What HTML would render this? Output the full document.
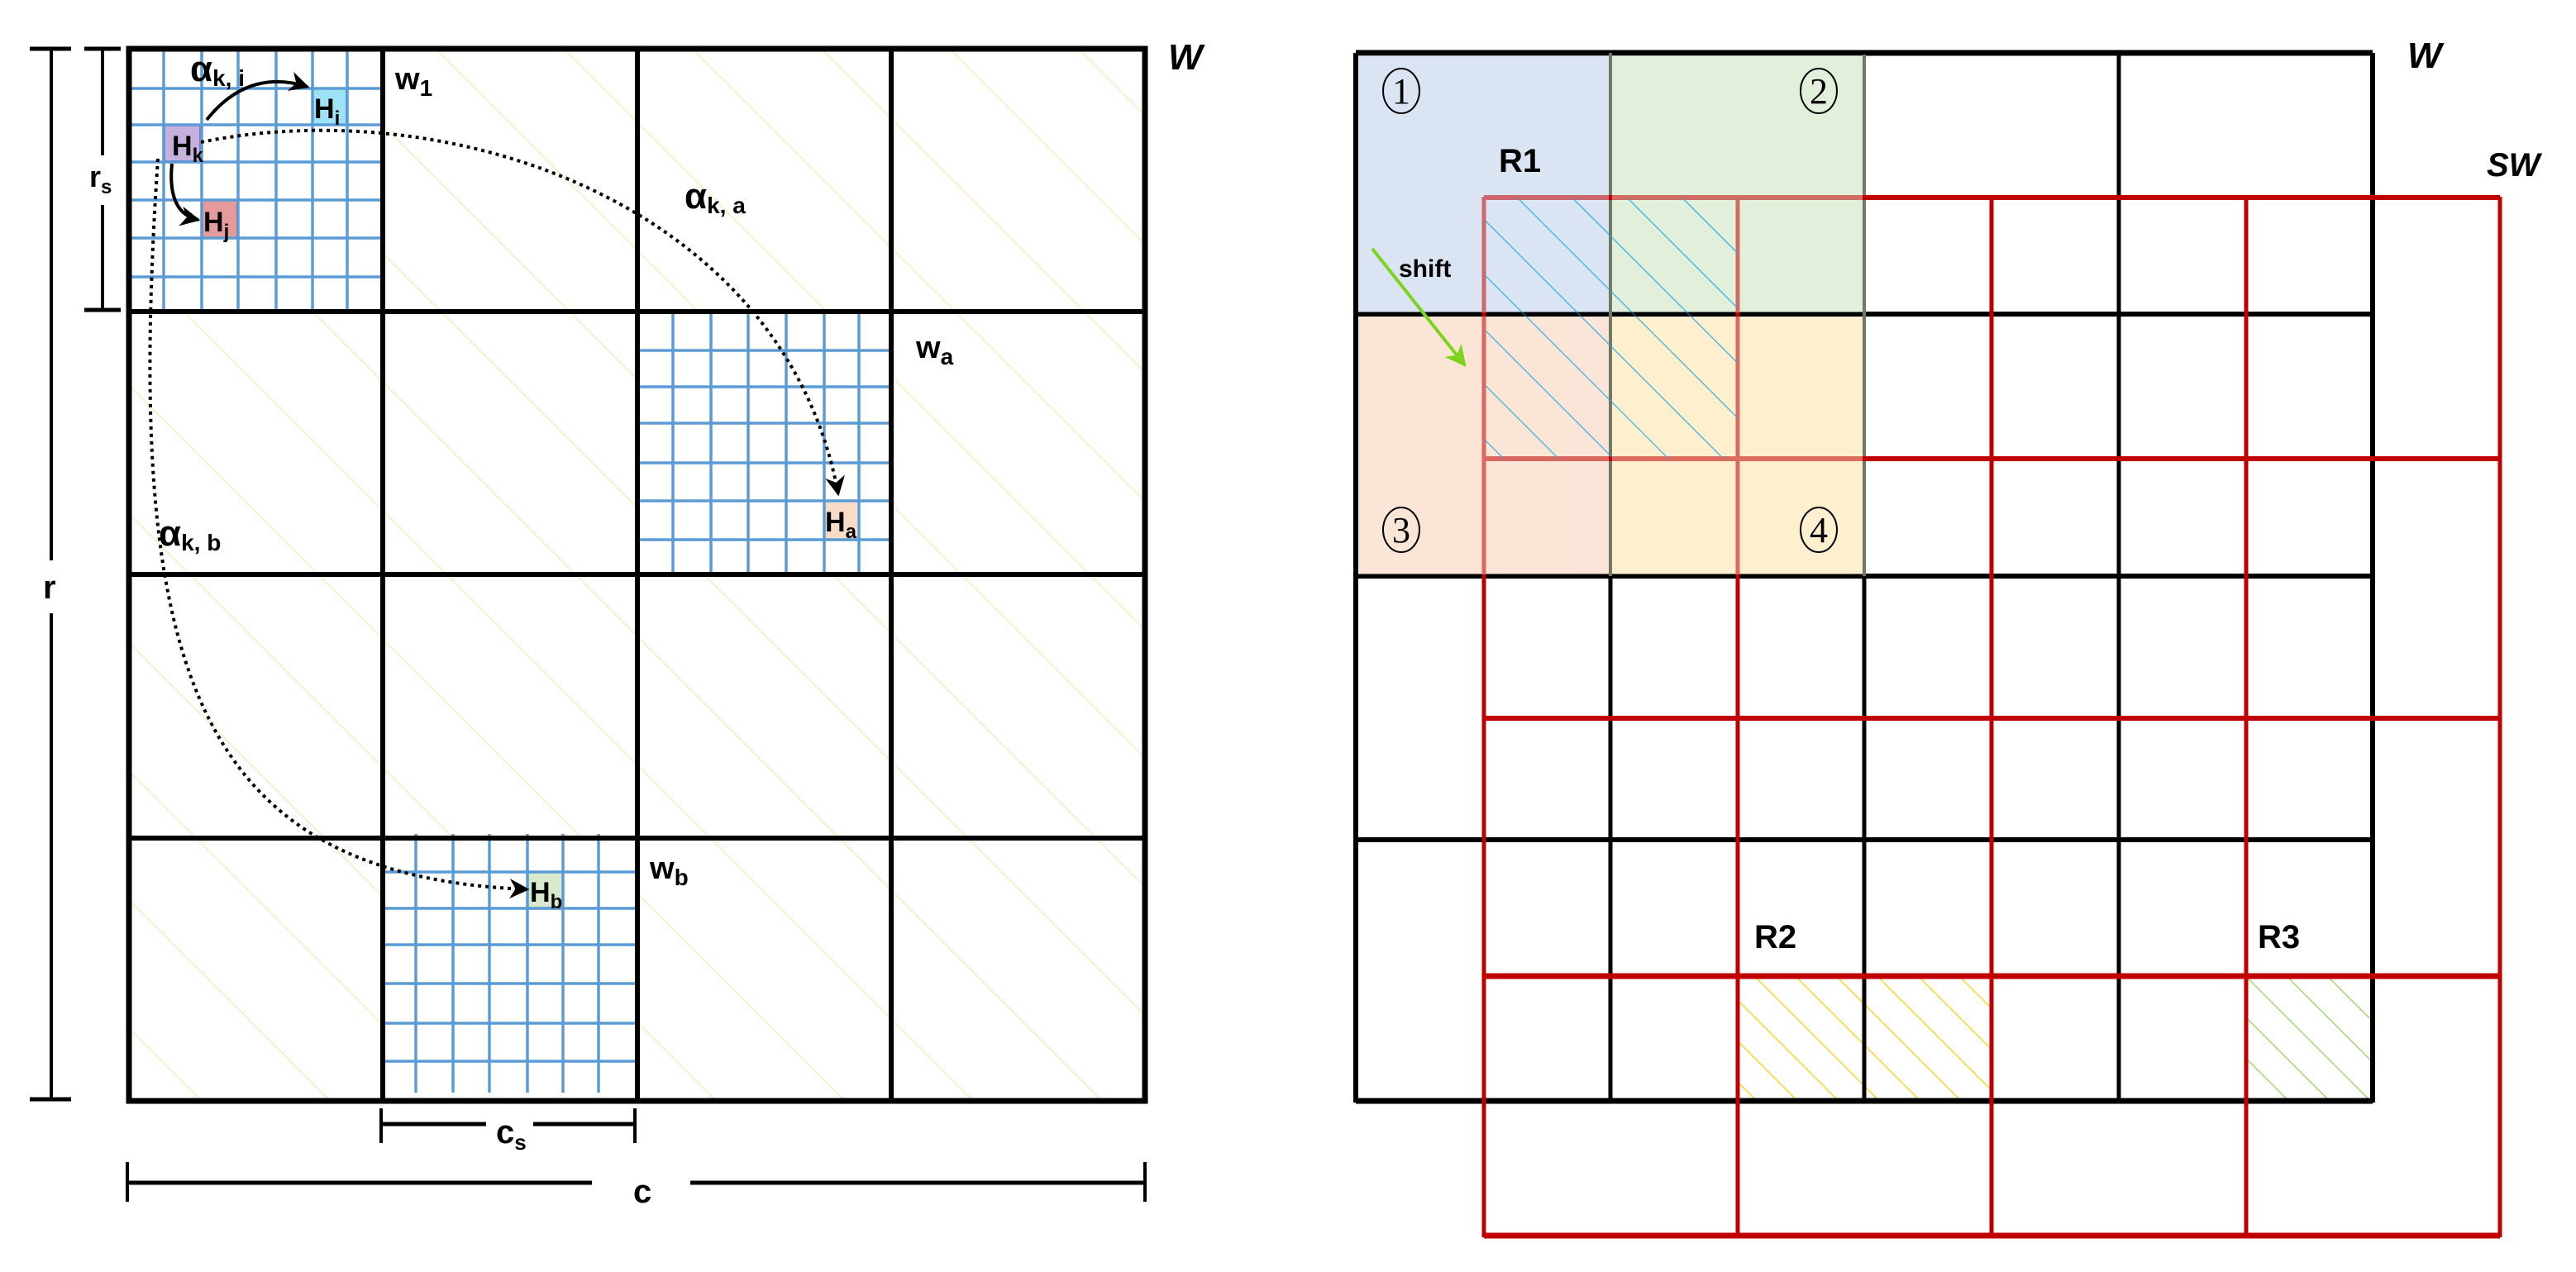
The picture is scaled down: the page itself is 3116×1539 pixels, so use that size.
<!DOCTYPE html>
<html><head><meta charset="utf-8"><style>
html,body{margin:0;padding:0;background:#fff;}
svg{display:block;}
text{font-family:"Liberation Sans","DejaVu Sans",sans-serif;font-weight:bold;fill:#000;}
</style></head><body>
<svg width="3116" height="1539" viewBox="0 0 3116 1539" xmlns="http://www.w3.org/2000/svg">
<defs>
<pattern id="ylw" patternUnits="userSpaceOnUse" width="110" height="110" patternTransform="rotate(-45)">
<line x1="0" y1="0" x2="0" y2="110" stroke="#fde6ad" stroke-width="2.5"/>
</pattern>
<pattern id="blu" patternUnits="userSpaceOnUse" width="47" height="47" patternTransform="rotate(-45)">
<line x1="0" y1="0" x2="0" y2="47" stroke="#1aa9e0" stroke-width="2.5"/>
</pattern>
<pattern id="yel" patternUnits="userSpaceOnUse" width="35" height="35" patternTransform="rotate(-45)">
<line x1="0" y1="0" x2="0" y2="35" stroke="#ffcc00" stroke-width="2.5"/>
</pattern>
<pattern id="grn" patternUnits="userSpaceOnUse" width="35" height="35" patternTransform="rotate(-45)">
<line x1="0" y1="0" x2="0" y2="35" stroke="#8fd15a" stroke-width="2.5"/>
</pattern>
<marker id="arr" viewBox="0 0 20 20" refX="18" refY="10" markerWidth="24" markerHeight="24" orient="auto" markerUnits="userSpaceOnUse">
<path d="M0,0 L20,10 L0,20 L6,10 Z" fill="#000"/>
</marker>
<marker id="garr" viewBox="0 0 20 20" refX="18" refY="10" markerWidth="26" markerHeight="26" orient="auto" markerUnits="userSpaceOnUse">
<path d="M0,0 L20,10 L0,20 L6,10 Z" fill="#7ed321"/>
</marker>
</defs>

<!-- ================= LEFT ================= -->
<rect x="156" y="59" width="1229" height="1273" fill="url(#ylw)"/>
<rect x="156" y="59" width="307" height="318" fill="#fff"/>
<rect x="771" y="377" width="307" height="318" fill="#fff"/>
<rect x="463" y="1014" width="308" height="318" fill="#fff"/>

<rect x="199" y="151" width="43" height="44" fill="#c5b1dc" stroke="#8b72c3" stroke-width="2"/>
<rect x="378" y="107" width="41" height="44" fill="#9fe1f7" stroke="#4cb8e6" stroke-width="2"/>
<rect x="244" y="242" width="43" height="46" fill="#e69a9a" stroke="#a86a7a" stroke-width="2"/>
<rect x="997" y="608" width="40" height="44" fill="#f8dcc6"/>
<rect x="639" y="1056" width="43" height="45" fill="#d8e9cc"/>

<g stroke="#5b9bd5" stroke-width="3.5">
<line x1="198" y1="62" x2="198" y2="374"/><line x1="244" y1="62" x2="244" y2="374"/><line x1="288" y1="62" x2="288" y2="374"/><line x1="334" y1="62" x2="334" y2="374"/><line x1="378" y1="62" x2="378" y2="374"/><line x1="420" y1="62" x2="420" y2="374"/>
<line x1="158" y1="107" x2="461" y2="107"/><line x1="158" y1="151" x2="461" y2="151"/><line x1="158" y1="196" x2="461" y2="196"/><line x1="158" y1="242" x2="461" y2="242"/><line x1="158" y1="288" x2="461" y2="288"/><line x1="158" y1="335" x2="461" y2="335"/>
<line x1="814" y1="379" x2="814" y2="692"/><line x1="860" y1="379" x2="860" y2="692"/><line x1="905" y1="379" x2="905" y2="692"/><line x1="951" y1="379" x2="951" y2="692"/><line x1="997" y1="379" x2="997" y2="692"/><line x1="1039" y1="379" x2="1039" y2="692"/>
<line x1="773" y1="424" x2="1078" y2="424"/><line x1="773" y1="468" x2="1078" y2="468"/><line x1="773" y1="512" x2="1078" y2="512"/><line x1="773" y1="560" x2="1078" y2="560"/><line x1="773" y1="606" x2="1078" y2="606"/><line x1="773" y1="653" x2="1078" y2="653"/>
<line x1="503" y1="1009" x2="503" y2="1322"/><line x1="548" y1="1009" x2="548" y2="1322"/><line x1="592" y1="1009" x2="592" y2="1322"/><line x1="638" y1="1009" x2="638" y2="1322"/><line x1="681" y1="1009" x2="681" y2="1322"/><line x1="724" y1="1009" x2="724" y2="1322"/>
<line x1="463" y1="1055" x2="768" y2="1055"/><line x1="463" y1="1099" x2="768" y2="1099"/><line x1="463" y1="1143" x2="768" y2="1143"/><line x1="463" y1="1190" x2="768" y2="1190"/><line x1="463" y1="1238" x2="768" y2="1238"/><line x1="463" y1="1284" x2="768" y2="1284"/>
</g>

<g stroke="#000" stroke-width="6" fill="none">
<rect x="156" y="59" width="1229" height="1273" stroke-width="7"/>
<line x1="463" y1="59" x2="463" y2="1332"/><line x1="771" y1="59" x2="771" y2="1332"/><line x1="1078" y1="59" x2="1078" y2="1332"/>
<line x1="156" y1="377" x2="1385" y2="377"/><line x1="156" y1="695" x2="1385" y2="695"/><line x1="156" y1="1014" x2="1385" y2="1014"/>
</g>

<text x="208" y="188" font-size="34">H<tspan font-size="24" dy="8">k</tspan></text>
<text x="380" y="143" font-size="34">H<tspan font-size="24" dy="8">i</tspan></text>
<text x="246" y="280" font-size="34">H<tspan font-size="24" dy="8">j</tspan></text>
<text x="998" y="643" font-size="34">H<tspan font-size="24" dy="8">a</tspan></text>
<text x="641" y="1091" font-size="34">H<tspan font-size="24" dy="8">b</tspan></text>

<text x="478" y="108" font-size="38">w<tspan font-size="28" dy="8">1</tspan></text>
<text x="1108" y="433" font-size="38">w<tspan font-size="28" dy="8">a</tspan></text>
<text x="786" y="1063" font-size="38">w<tspan font-size="28" dy="8">b</tspan></text>

<text x="230" y="98" font-size="44">α<tspan font-size="28" dy="6">k, i</tspan></text>
<text x="828" y="252" font-size="44">α<tspan font-size="28" dy="6">k, a</tspan></text>
<text x="192" y="660" font-size="44">α<tspan font-size="28" dy="6">k, b</tspan></text>

<g fill="none" stroke="#000">
<path d="M250,145 Q300,82 372,105" stroke-width="4" marker-end="url(#arr)"/>
<path d="M208,198 Q202,258 240,266" stroke-width="4" marker-end="url(#arr)"/>
<path d="M243,172 C550,110 950,250 1014,598" stroke-width="4" stroke-dasharray="4 5" marker-end="url(#arr)"/>
<path d="M191,192 C150,800 230,1060 638,1076" stroke-width="4" stroke-dasharray="4 5" marker-end="url(#arr)"/>
</g>

<text x="1413" y="84" font-size="44" font-style="italic">W</text>

<g stroke="#000" stroke-width="4" fill="none">
<line x1="62" y1="58" x2="62" y2="678"/><line x1="62" y1="742" x2="62" y2="1330"/>
<line x1="36" y1="59" x2="86" y2="59" stroke-width="5"/><line x1="36" y1="1330" x2="86" y2="1330" stroke-width="5"/>
<line x1="124" y1="58" x2="124" y2="188"/><line x1="124" y1="248" x2="124" y2="375"/>
<line x1="102" y1="59" x2="146" y2="59" stroke-width="5"/><line x1="102" y1="375" x2="146" y2="375" stroke-width="5"/>
<line x1="461" y1="1360" x2="588" y2="1360" stroke-width="5"/><line x1="645" y1="1360" x2="768" y2="1360" stroke-width="5"/>
<line x1="461" y1="1341" x2="461" y2="1383"/><line x1="768" y1="1341" x2="768" y2="1383"/>
<line x1="154" y1="1431" x2="716" y2="1431" stroke-width="5"/><line x1="835" y1="1431" x2="1385" y2="1431" stroke-width="5"/>
<line x1="154" y1="1406" x2="154" y2="1454"/><line x1="1385" y1="1406" x2="1385" y2="1454"/>
</g>
<text x="52" y="724" font-size="40">r</text>
<text x="108" y="226" font-size="36">r<tspan font-size="24" dy="8">s</tspan></text>
<text x="600" y="1383" font-size="40">c<tspan font-size="26" dy="8">s</tspan></text>
<text x="766" y="1455" font-size="40">c</text>

<!-- ================= RIGHT ================= -->
<rect x="1640" y="64" width="308" height="316" fill="#dbe4f3"/>
<rect x="1948" y="64" width="307" height="316" fill="#e2efdb"/>
<rect x="1640" y="380" width="308" height="317" fill="#fbe5d8"/>
<rect x="1948" y="380" width="307" height="317" fill="#fef0cf"/>

<rect x="1797" y="240" width="305" height="315" fill="url(#blu)"/>
<rect x="2104" y="1182" width="305" height="150" fill="url(#yel)"/>
<rect x="2719" y="1182" width="151" height="150" fill="url(#grn)"/>

<g stroke="#000" stroke-width="5" fill="none">
<line x1="1640" y1="64" x2="2870" y2="64" stroke-width="7"/>
<line x1="1640" y1="64" x2="1640" y2="1334" stroke-width="6"/>
<line x1="2870" y1="64" x2="2870" y2="1334" stroke-width="6"/>
<line x1="1640" y1="1332" x2="2870" y2="1332" stroke-width="7"/>
<line x1="1640" y1="380" x2="2870" y2="380" stroke-width="6"/>
<line x1="1640" y1="697" x2="2870" y2="697" stroke-width="6"/>
<line x1="1640" y1="1016" x2="2870" y2="1016" stroke-width="6"/>
<line x1="1948" y1="697" x2="1948" y2="1334"/>
<line x1="2255" y1="697" x2="2255" y2="1334"/>
<line x1="2563" y1="64" x2="2563" y2="1334"/>
</g>
<g stroke="#6e7a64" stroke-width="4" fill="none">
<line x1="1948" y1="64" x2="1948" y2="697"/>
<line x1="2255" y1="66" x2="2255" y2="697"/>
</g>

<g stroke="#c00000" stroke-width="5" fill="none">
<line x1="1795" y1="238" x2="1795" y2="1497"/>
<line x1="2102" y1="238" x2="2102" y2="1497"/>
<line x1="2409" y1="238" x2="2409" y2="1497"/>
<line x1="2717" y1="238" x2="2717" y2="1497"/>
<line x1="3024" y1="238" x2="3024" y2="1497"/>
<line x1="1795" y1="239" x2="3024" y2="239" stroke-width="6"/>
<line x1="1795" y1="555" x2="3024" y2="555" stroke-width="6"/>
<line x1="1795" y1="869" x2="3024" y2="869" stroke-width="6"/>
<line x1="1795" y1="1181" x2="3024" y2="1181" stroke-width="7"/>
<line x1="1795" y1="1495" x2="3024" y2="1495" stroke-width="7"/>
</g>

<g opacity="0.45">
<rect x="1643" y="67" width="303" height="311" fill="#dbe4f3"/>
<rect x="1950" y="67" width="303" height="311" fill="#e2efdb"/>
<rect x="1643" y="383" width="303" height="312" fill="#fbe5d8"/>
<rect x="1950" y="383" width="303" height="312" fill="#fef0cf"/>
</g>
<rect x="1797" y="240" width="305" height="315" fill="url(#blu)" opacity="0.6"/>

<!-- circled numbers -->
<g fill="none" stroke="#000" stroke-width="2">
<ellipse cx="1695" cy="110" rx="22" ry="27"/>
<ellipse cx="2200" cy="110" rx="22" ry="27"/>
<ellipse cx="1695" cy="641" rx="22" ry="27"/>
<ellipse cx="2200" cy="641" rx="22" ry="27"/>
</g>
<g style="font-family:'Liberation Serif',serif;font-weight:normal" font-size="44" text-anchor="middle">
<text x="1695" y="125" style="font-family:'Liberation Serif',serif;font-weight:normal">1</text>
<text x="2200" y="125" style="font-family:'Liberation Serif',serif;font-weight:normal">2</text>
<text x="1695" y="656" style="font-family:'Liberation Serif',serif;font-weight:normal">3</text>
<text x="2200" y="656" style="font-family:'Liberation Serif',serif;font-weight:normal">4</text>
</g>

<text x="1813" y="208" font-size="40">R1</text>
<text x="1692" y="335" font-size="30">shift</text>
<line x1="1660" y1="301" x2="1772" y2="442" stroke="#7ed321" stroke-width="4" marker-end="url(#garr)"/>
<text x="2122" y="1147" font-size="40">R2</text>
<text x="2731" y="1147" font-size="40">R3</text>

<text x="2912" y="82" font-size="44" font-style="italic">W</text>
<text x="3008" y="213" font-size="40" font-style="italic">SW</text>
</svg>
</body></html>
